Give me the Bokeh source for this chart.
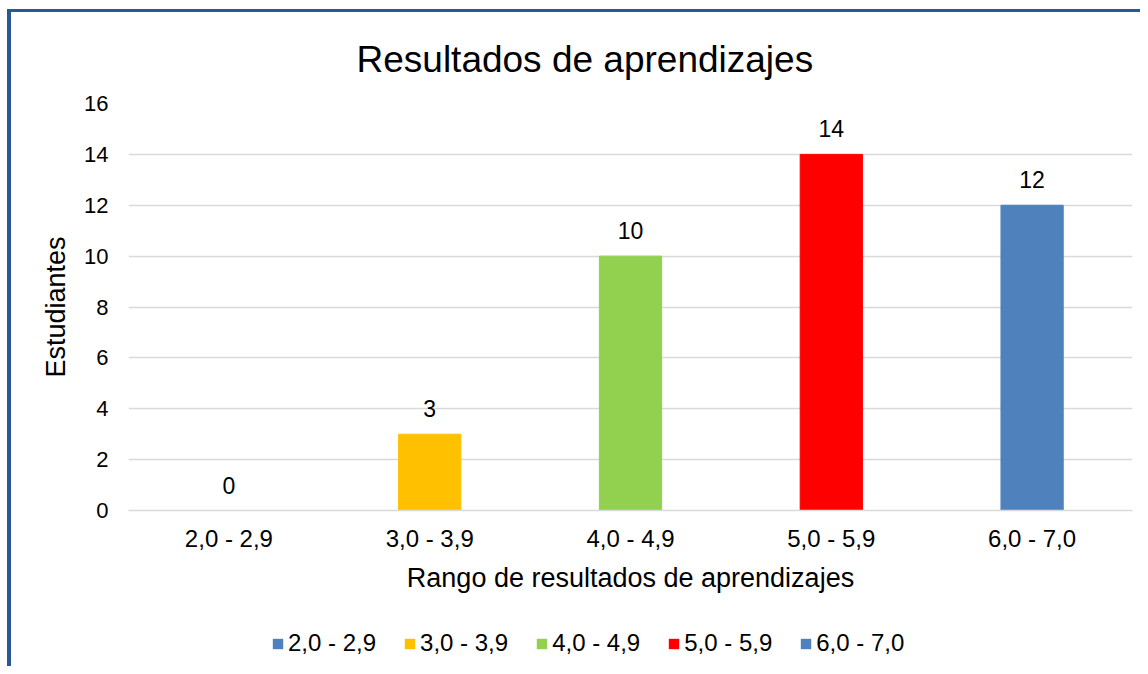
from bokeh.plotting import figure
from bokeh.layouts import column
from bokeh.models import ColumnDataSource, FixedTicker, LabelSet, Range1d, Legend, LegendItem
from bokeh.core.properties import value
from bokeh.embed import file_html
from bokeh.resources import INLINE

categories = ["2,0 - 2,9", "3,0 - 3,9", "4,0 - 4,9", "5,0 - 5,9", "6,0 - 7,0"]
students = [0, 3, 10, 14, 12]
colors = ["#4f81bd", "#ffc000", "#92d050", "#ff0000", "#4f81bd"]
y_ticks = [0, 2, 4, 6, 8, 10, 12, 14, 16]

FONT = "Liberation Sans"

src = ColumnDataSource(dict(cat=categories, val=students, color=colors,
                            lab=[str(v) for v in students]))

# ---- main chart ----
p = figure(x_range=categories, y_range=Range1d(0, 16), width=1129, height=588,
           output_backend="svg", toolbar_location=None,
           min_border_left=117, min_border_right=8, min_border_top=88,
           min_border_bottom=90)

p.title.text = "Resultados de aprendizajes"
p.title.align = "left"
p.title.offset = 228
p.title.text_font = FONT
p.title.text_font_size = "37px"
p.title.text_font_style = "normal"
p.title.text_color = "#000000"
p.title.standoff = 48

r = p.vbar(x="cat", top="val", width=0.31, color="color", source=src)

labels = LabelSet(x="cat", y="val", text="lab", source=src, text_align="center",
                  text_baseline="bottom", y_offset=17, text_font=value(FONT),
                  text_font_size="23px", text_color="#000000")
p.add_layout(labels)

p.outline_line_color = None
p.xgrid.grid_line_color = None
p.ygrid.grid_line_color = "#d9d9d9"
p.ygrid.grid_line_width = 1.5
p.yaxis.ticker = FixedTicker(ticks=y_ticks)

p.yaxis.axis_line_color = None
p.yaxis.major_tick_line_color = None
p.yaxis.minor_tick_line_color = None
p.yaxis.major_tick_out = 0
p.yaxis.minor_tick_out = 0
p.yaxis.major_label_text_font = FONT
p.yaxis.major_label_text_font_size = "22px"
p.yaxis.major_label_text_color = "#000000"
p.yaxis.major_label_standoff = 20
p.yaxis.axis_label = "Estudiantes"
p.yaxis.axis_label_text_font = FONT
p.yaxis.axis_label_text_font_size = "27px"
p.yaxis.axis_label_text_font_style = "normal"
p.yaxis.axis_label_text_color = "#000000"
p.yaxis.axis_label_standoff = 10

p.xaxis.axis_line_color = "#d9d9d9"
p.xaxis.axis_line_width = 1.5
p.xaxis.major_tick_line_color = None
p.xaxis.minor_tick_line_color = None
p.xaxis.major_tick_out = 0
p.xaxis.minor_tick_out = 0
p.xaxis.major_label_text_font = FONT
p.xaxis.major_label_text_font_size = "24px"
p.xaxis.major_label_text_color = "#000000"
p.xaxis.major_label_standoff = 14
p.xaxis.axis_label = "Rango de resultados de aprendizajes"
p.xaxis.axis_label_text_font = FONT
p.xaxis.axis_label_text_font_size = "27px"
p.xaxis.axis_label_text_font_style = "normal"
p.xaxis.axis_label_text_color = "#000000"
p.xaxis.axis_label_standoff = 8

# ---- legend strip (same data; its bars are hidden, only the legend shows) ----
lg = figure(x_range=categories, y_range=Range1d(-200, -100), width=1129, height=66,
            output_backend="svg", toolbar_location=None,
            x_axis_type=None, y_axis_type=None,
            min_border_left=0, min_border_right=0, min_border_top=0,
            min_border_bottom=0)
lg.outline_line_color = None
lg.grid.visible = False
r2 = lg.vbar(x="cat", bottom="val", top="val", width=0.31, fill_color="color",
             line_color=None, source=src)
r2.visible = False

items = [LegendItem(label=c, renderers=[r2], index=i) for i, c in enumerate(categories)]
legend = Legend(items=items, orientation="horizontal",
                label_text_font=FONT, label_text_font_size="24px",
                label_text_color="#000000", glyph_width=13, glyph_height=13,
                spacing=27, label_standoff=4, border_line_color=None,
                background_fill_alpha=0, padding=4, margin=0,
                location=(143, 9))
lg.add_layout(legend)

layout = column(p, lg, spacing=0)
layout.styles = {"border-left": "4px solid #2b5797", "border-top": "3px solid #2b5797",
                 "margin-left": "7px", "margin-top": "9px"}

open("out.html", "w").write(file_html(layout, INLINE))
